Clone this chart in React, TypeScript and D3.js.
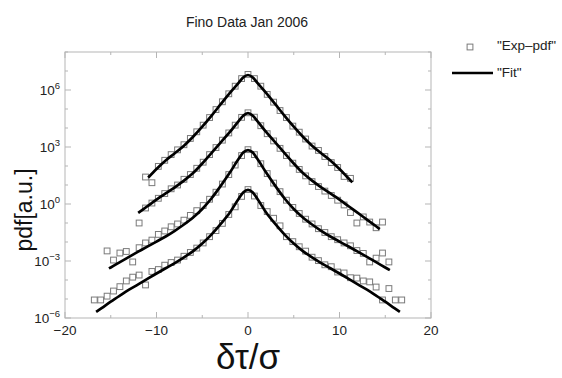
import React from "react";
import * as d3 from "d3";

// ---- data (log10 of pdf, arbitrary units) ----
const BIN_X = [-16.8, -16.1, -15.4, -14.7, -14.0, -13.3, -12.6, -11.9, -11.2, -10.5, -9.8, -9.1, -8.4, -7.7, -7.0, -6.3, -5.6, -4.9, -4.2, -3.5, -2.8, -2.1, -1.4, -0.7, 0, 0.7, 1.4, 2.1, 2.8, 3.5, 4.2, 4.9, 5.6, 6.3, 7.0, 7.7, 8.4, 9.1, 9.8, 10.5, 11.2, 11.9, 12.6, 13.3, 14.0, 14.7, 15.4, 16.1, 16.8];

const EXP1 = [null, null, null, null, null, null, null, null, 1.42, 1.12, 1.98, 2.3, 2.6, 2.85, 3.12, 3.45, 3.8, 4.15, 4.55, 4.97, 5.38, 5.8, 6.2, 6.6, 6.82, 6.6, 6.2, 5.77, 5.36, 4.92, 4.55, 4.1, 3.78, 3.42, 3.05, 2.82, 2.5, 2.18, 1.92, 1.45, 1.35, null, null, null, null, null, null, null, null];
const EXP2 = [null, null, null, null, null, null, null, -1.0, -0.21, 0.05, 0.3, 0.55, 0.8, 1.0, 1.3, 1.55, 1.88, 2.2, 2.6, 2.97, 3.36, 3.74, 4.15, 4.56, 4.8, 4.57, 4.12, 3.7, 3.32, 2.93, 2.55, 2.15, 1.82, 1.48, 1.18, 0.92, 0.68, 0.45, 0.2, -0.05, -0.45, -1.0, -0.68, -0.95, -1.25, -0.95, null, null, null];
const EXP3 = [null, null, -2.47, -2.95, -2.58, -2.5, -3.05, -2.3, -2.05, -1.9, -1.6, -1.42, -1.2, -1.05, -0.85, -0.6, -0.35, -0.08, 0.25, 0.62, 1.05, 1.55, 2.05, 2.55, 2.86, 2.6, 2.12, 1.6, 1.1, 0.65, 0.2, -0.18, -0.5, -0.8, -1.05, -1.3, -1.5, -1.72, -1.88, -2.05, -2.2, -2.45, -2.6, -3.05, -2.85, -2.58, -3.05, null, null];
const EXP4 = [-5.05, -5.05, -4.85, -4.58, -4.35, -4.05, -3.85, -3.74, -4.26, -3.55, -3.45, -3.22, -3.08, -2.95, -2.75, -2.55, -2.32, -2.05, -1.72, -1.4, -1.02, -0.55, -0.15, 0.4, 0.76, 0.42, -0.08, -0.4, -0.75, -1.15, -1.72, -1.98, -2.25, -2.48, -2.8, -2.98, -3.2, -3.3, -3.58, -3.63, -3.88, -3.9, -4.05, -4.1, -4.37, -5.05, -4.45, -5.05, -5.05];

const FIT1_X = [-10.9, -10, -9, -8, -7, -6, -5, -4, -3, -2, -1, -0.5, 0, 0.5, 1, 2, 3, 4, 5, 6, 7, 8, 9, 10, 11, 11.4];
const FIT1_LOG = [1.39, 1.84, 2.29, 2.67, 3.07, 3.54, 4.07, 4.64, 5.24, 5.84, 6.39, 6.67, 6.79, 6.67, 6.39, 5.84, 5.24, 4.64, 4.07, 3.54, 3.07, 2.67, 2.29, 1.84, 1.34, 1.14];

const FIT2_X = [-12, -11, -10, -9, -8, -7, -6, -5, -4, -3, -2, -1, -0.5, 0, 0.5, 1, 2, 3, 4, 5, 6, 7, 8, 9, 10, 11, 12, 13, 14, 14.4];
const FIT2_LOG = [-0.47, -0.12, 0.23, 0.56, 0.88, 1.23, 1.63, 2.13, 2.68, 3.23, 3.78, 4.38, 4.66, 4.78, 4.66, 4.38, 3.78, 3.23, 2.68, 2.13, 1.63, 1.23, 0.88, 0.56, 0.23, -0.12, -0.47, -0.82, -1.17, -1.32];

const FIT3_X = [-15.2, -15, -14, -13, -12, -11, -10, -9, -8, -7, -6, -5, -4, -3, -2, -1, -0.5, 0, 0.5, 1, 2, 3, 4, 5, 6, 7, 8, 9, 10, 11, 12, 13, 14, 15, 15.5];
const FIT3_LOG = [-3.39, -3.34, -3.06, -2.78, -2.51, -2.24, -1.98, -1.71, -1.41, -1.08, -0.71, -0.26, 0.29, 0.94, 1.64, 2.39, 2.72, 2.84, 2.72, 2.39, 1.64, 0.94, 0.29, -0.26, -0.71, -1.08, -1.41, -1.71, -1.98, -2.24, -2.51, -2.78, -3.06, -3.34, -3.48];

const FIT4_X = [-16.6, -16, -15, -14, -13, -12, -11, -10, -9, -8, -7, -6, -5, -4, -3, -2, -1, -0.5, 0, 0.5, 1, 2, 3, 4, 5, 6, 7, 8, 9, 10, 11, 12, 13, 14, 15, 16, 16.6];
const FIT4_LOG = [-5.68, -5.48, -5.14, -4.82, -4.51, -4.23, -3.94, -3.66, -3.38, -3.11, -2.81, -2.48, -2.08, -1.61, -1.06, -0.46, 0.29, 0.62, 0.74, 0.62, 0.29, -0.46, -1.06, -1.61, -2.08, -2.48, -2.81, -3.11, -3.38, -3.66, -3.94, -4.23, -4.51, -4.82, -5.14, -5.48, -5.68];

const EXP_SERIES = [EXP1, EXP2, EXP3, EXP4];
const FIT_SERIES = [
  { x: FIT1_X, v: FIT1_LOG },
  { x: FIT2_X, v: FIT2_LOG },
  { x: FIT3_X, v: FIT3_LOG },
  { x: FIT4_X, v: FIT4_LOG },
];

const X_TICKS = [-20, -15, -10, -5, 0, 5, 10, 15, 20];
const X_LABELS = [-20, -10, 0, 10, 20];
const Y_DECADES = [-6, -5, -4, -3, -2, -1, 0, 1, 2, 3, 4, 5, 6, 7, 8];
const Y_LABELS = [-6, -3, 0, 3, 6];

const TITLE = "Fino Data Jan 2006";
const LEGEND = ['"Exp\u2013pdf"', '"Fit"'];

const W = 562, H = 378;
const L = 65, R = 431, T = 52, B = 318;
const FONT = "'Liberation Sans', Arial, Helvetica, sans-serif";
const FRAME = "#b5b5b5";
const SQ = "#7a7a7a";

const fmt = (n: number) => (n < 0 ? "\u2212" + Math.abs(n) : String(n));

export default function App() {
  const x = d3.scaleLinear().domain([-20, 20]).range([L, R]);
  const y = d3.scaleLog().domain([1e-6, 1e8]).range([B, T]);
  const line = d3
    .line<[number, number]>()
    .x((d) => x(d[0]))
    .y((d) => y(Math.pow(10, d[1])))
    .curve(d3.curveMonotoneX);

  const sq = 5.8;

  return (
    <svg width={W} height={H} style={{ position: "absolute", left: 0, top: 0, background: "#fff" }} fontFamily={FONT}>
      <text x={247} y={27} textAnchor="middle" fontSize={14} fill="#222">{TITLE}</text>

      {/* frame */}
      <rect x={L} y={T} width={R - L} height={B - T} fill="none" stroke={FRAME} strokeWidth={1} />
      {X_TICKS.map((t) => {
        const len = t % 10 === 0 ? 6 : 3;
        return (
          <g key={"xt" + t} stroke={FRAME} strokeWidth={1}>
            <line x1={x(t)} x2={x(t)} y1={B} y2={B - len} />
            <line x1={x(t)} x2={x(t)} y1={T} y2={T + len} />
          </g>
        );
      })}
      {Y_DECADES.map((e) => {
        const len = e % 3 === 0 ? 6 : 3;
        const yy = y(Math.pow(10, e));
        return (
          <g key={"yt" + e} stroke={FRAME} strokeWidth={1}>
            <line x1={L} x2={L + len} y1={yy} y2={yy} />
            <line x1={R} x2={R - len} y1={yy} y2={yy} />
          </g>
        );
      })}
      {X_LABELS.map((t) => (
        <text key={"xl" + t} x={x(t)} y={335} textAnchor="middle" fontSize={13.5} fill="#222">{fmt(t)}</text>
      ))}
      {Y_LABELS.map((e) => (
        <text key={"yl" + e} x={60} y={y(Math.pow(10, e)) + 5} textAnchor="end" fontSize={13.5} fill="#222">
          <tspan>10</tspan>
          <tspan dy={-6} fontSize={9.5}>{fmt(e)}</tspan>
        </text>
      ))}

      <text transform={`translate(32,210) rotate(-90)`} textAnchor="middle" fontSize={23} fill="#111">pdf[a.u.]</text>
      <text x={248} y={369} textAnchor="middle" fontSize={35} fill="#111">δτ/σ</text>

      {/* experimental pdf squares */}
      {EXP_SERIES.map((s, si) => (
        <g key={"exp" + si} fill="none" stroke={SQ} strokeWidth={1}>
          {s.map((v, i) =>
            v === null ? null : (
              <rect key={i} x={x(BIN_X[i]) - sq / 2} y={y(Math.pow(10, v)) - sq / 2} width={sq} height={sq} />
            )
          )}
        </g>
      ))}

      {/* fits */}
      {FIT_SERIES.map((f, fi) => (
        <path
          key={"fit" + fi}
          d={line(f.x.map((xx, i) => [xx, f.v[i]] as [number, number])) || ""}
          fill="none"
          stroke="#000"
          strokeWidth={2.7}
        />
      ))}

      {/* legend */}
      <rect x={470 - sq / 2} y={47 - sq / 2} width={sq} height={sq} fill="none" stroke={SQ} strokeWidth={1} />
      <text x={497} y={50} fontSize={13.5} fill="#222">{LEGEND[0]}</text>
      <line x1={452} x2={493} y1={73} y2={73} stroke="#000" strokeWidth={2.7} />
      <text x={497} y={77} fontSize={13.5} fill="#222">{LEGEND[1]}</text>
    </svg>
  );
}
